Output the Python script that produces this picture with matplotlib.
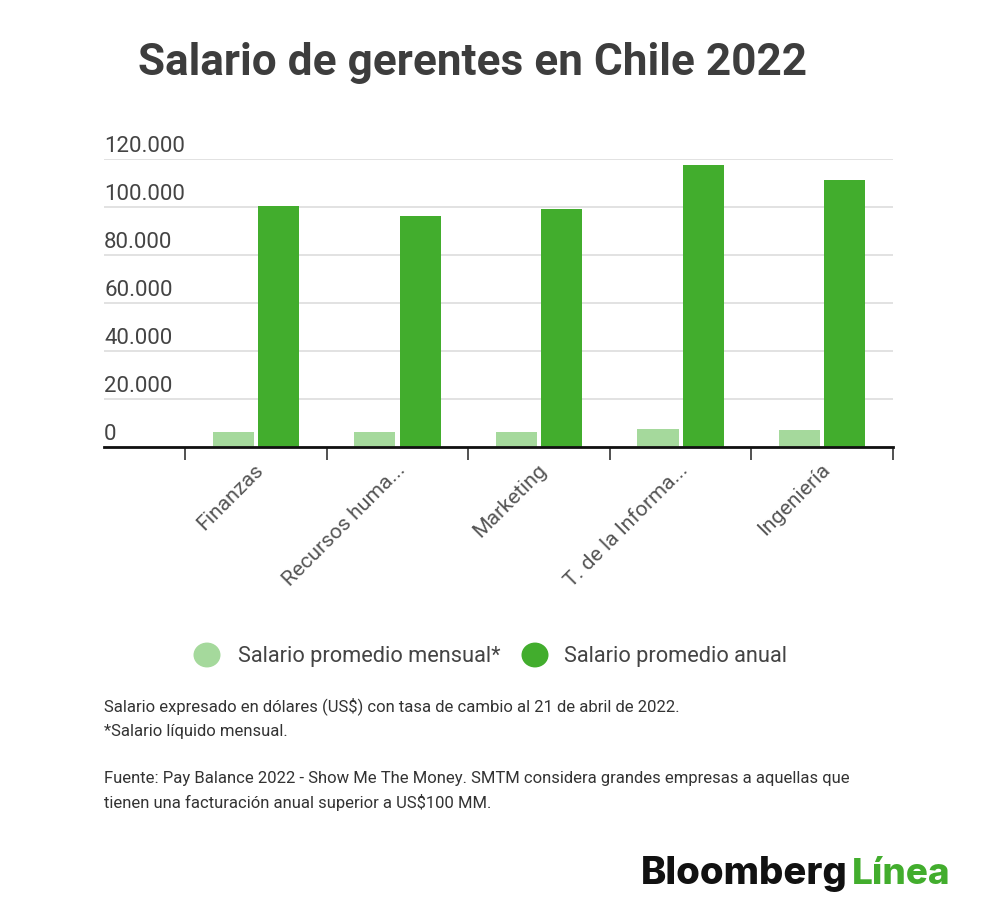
import matplotlib
matplotlib.use("Agg")
import matplotlib.pyplot as plt
from matplotlib.transforms import offset_copy, blended_transform_factory
from matplotlib.patches import Circle

categories = ["Finanzas", "Recursos huma...", "Marketing", "T. de la Informa...", "Ingeniería"]
mensual = [6400, 6100, 6100, 7500, 7100]
anual = [100500, 96300, 99200, 117500, 111300]
yticks = [0, 20000, 40000, 60000, 80000, 100000, 120000]
ytick_labels = ["0", "20.000", "40.000", "60.000", "80.000", "100.000", "120.000"]
series_names = ["Salario promedio mensual*", "Salario promedio anual"]

LIGHT = "#a5d99c"
DARK = "#42ad2d"
TXT = "#444444"

plt.rcParams['font.family'] = ['Roboto', 'DejaVu Sans']

W, H = 1000, 922
fig = plt.figure(figsize=(W / 100, H / 100), dpi=100)
fig.patch.set_facecolor("white")

def fx(px):
    return px / W

def fy(py):
    return 1 - py / H

ax = fig.add_axes([fx(104), fy(447), fx(893) - fx(104), fy(159) - fy(447)])
ax.set_xlim(-1.073, 4.5)
ax.set_ylim(0, 120000)

bw = 0.29
gap = 0.03
x = list(range(len(categories)))
ax.bar([i - bw / 2 - gap / 2 for i in x], mensual, width=bw, color=LIGHT, zorder=3)
ax.bar([i + bw / 2 + gap / 2 for i in x], anual, width=bw, color=DARK, zorder=3)

for s in ["top", "right", "left"]:
    ax.spines[s].set_visible(False)
ax.spines["bottom"].set_color("#111111")
ax.spines["bottom"].set_linewidth(2)
ax.spines["bottom"].set_zorder(4)

ax.set_yticks(yticks)
ax.set_yticklabels([])
ax.tick_params(axis="y", length=0)
ax.yaxis.grid(True, color="#dddddd", linewidth=1.2, zorder=0)
ax.set_axisbelow(True)

ax.set_xticks([i - 0.5 for i in range(len(categories) + 1)])
ax.set_xticklabels([])
ax.tick_params(axis="x", direction="out", length=9, width=1.2, color="#333333")

trans_y = blended_transform_factory(ax.transAxes, ax.transData)
trans_y_off = offset_copy(trans_y, fig=fig, x=0, y=7, units="dots")
for v, lab in zip(yticks, ytick_labels):
    ax.text(0, v, lab, transform=trans_y_off, ha="left", va="baseline",
            fontsize=16, color=TXT)

trans_x = blended_transform_factory(ax.transData, ax.transAxes)
trans_x_off = offset_copy(trans_x, fig=fig, x=-2, y=-13, units="dots")
for i, lab in enumerate(categories):
    ax.text(i, 0, lab, transform=trans_x_off, rotation=45, rotation_mode="anchor",
            ha="right", va="top", fontsize=15.3, color="#555555")

# Title
fig.text(fx(138), fy(75), "Salario de gerentes en Chile 2022", ha="left", va="baseline",
         fontsize=31.8, fontweight="bold", color="#3d3d3d")

# Legend
for cx, col, name, tx in [(207, LIGHT, series_names[0], 238), (535, DARK, series_names[1], 564)]:
    fig.patches.append(Circle((fx(cx), fy(655)), radius=13.5 / W, transform=fig.transFigure,
                              facecolor=col, edgecolor="none"))
    fig.text(fx(tx), fy(656), name, ha="left", va="center", fontsize=15.7, color=TXT)

# Notes
notes = [
    (706, "Salario expresado en dólares (US$) con tasa de cambio al 21 de abril de 2022."),
    (731, "*Salario líquido mensual."),
    (778, "Fuente: Pay Balance 2022 - Show Me The Money. SMTM considera grandes empresas a aquellas que"),
    (802, "tienen una facturación anual superior a US$100 MM."),
]
for yy, t in notes:
    fig.text(fx(104), fy(yy), t, ha="left", va="center", fontsize=12, color="#333333")

# Logo
fig.text(fx(641), fy(884), "Bloomberg", ha="left", va="baseline", fontsize=27.5,
         fontweight="heavy", color="#111111", family=["Inter", "DejaVu Sans"])
fig.text(fx(852), fy(884), "Línea", ha="left", va="baseline", fontsize=26.5,
         fontweight="heavy", color=DARK, family=["Inter", "DejaVu Sans"])

fig.savefig("out.png", dpi=100, facecolor="white")
